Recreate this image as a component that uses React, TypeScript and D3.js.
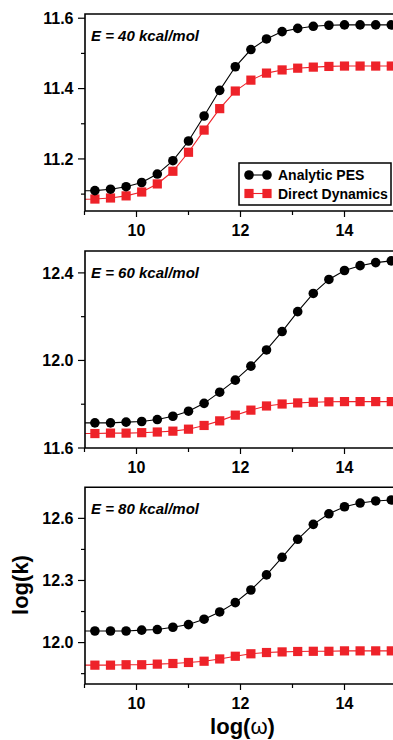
import React, { useRef, useEffect } from "react";
import * as d3 from "d3";

// log(omega) sample points (first one sits just left of the visible axis)
const logOmega = [8.9, 9.2, 9.5, 9.8, 10.1, 10.4, 10.7, 11.0, 11.3, 11.6, 11.9, 12.2, 12.5, 12.8, 13.1, 13.4, 13.7, 14.0, 14.3, 14.6, 14.9];

const energyLabels = ["E = 40 kcal/mol", "E = 60 kcal/mol", "E = 80 kcal/mol"];
const seriesNames = ["Analytic PES", "Direct Dynamics"];

const analytic40 = [11.109, 11.110, 11.114, 11.121, 11.133, 11.157, 11.195, 11.251, 11.322, 11.395, 11.462, 11.511, 11.541, 11.562, 11.571, 11.577, 11.580, 11.581, 11.581, 11.581, 11.581];
const direct40 = [11.085, 11.086, 11.089, 11.095, 11.106, 11.129, 11.165, 11.219, 11.282, 11.343, 11.393, 11.424, 11.444, 11.453, 11.458, 11.461, 11.463, 11.464, 11.464, 11.464, 11.464];
const analytic60 = [11.715, 11.715, 11.715, 11.718, 11.721, 11.730, 11.745, 11.768, 11.804, 11.855, 11.910, 11.974, 12.048, 12.132, 12.223, 12.306, 12.370, 12.411, 12.433, 12.447, 12.455];
const direct60 = [11.666, 11.666, 11.668, 11.668, 11.670, 11.673, 11.677, 11.686, 11.703, 11.724, 11.750, 11.773, 11.792, 11.801, 11.806, 11.809, 11.811, 11.812, 11.812, 11.812, 11.812];
const analytic80 = [12.056, 12.056, 12.056, 12.056, 12.060, 12.063, 12.074, 12.087, 12.113, 12.148, 12.193, 12.254, 12.327, 12.412, 12.499, 12.571, 12.622, 12.656, 12.674, 12.684, 12.689];
const direct80 = [11.891, 11.891, 11.891, 11.893, 11.893, 11.896, 11.899, 11.904, 11.910, 11.921, 11.934, 11.946, 11.952, 11.955, 11.957, 11.958, 11.958, 11.960, 11.960, 11.960, 11.960];

const xDomain: [number, number] = [9, 15];
const xMajorTicks = [10, 12, 14];
const xMinorTicks = [9, 11, 13, 15];

const yDomains: [number, number][] = [[11.052, 11.612], [11.6, 12.5], [11.8, 12.75]];
const yMajorTicks = [[11.2, 11.4, 11.6], [11.6, 12.0, 12.4], [12.0, 12.3, 12.6]];
const yMinorTicks = [[11.1, 11.3, 11.5], [11.8, 12.2], [11.85, 12.15, 12.45]];

const analyticSeries = [analytic40, analytic60, analytic80];
const directSeries = [direct40, direct60, direct80];

const RED = "#ee2229";
const FONT = "'Liberation Sans', Arial, Helvetica, sans-serif";

export default function App() {
  const svgRef = useRef<SVGSVGElement>(null);

  useEffect(() => {
    if (!svgRef.current) return;
    const svg = d3.select(svgRef.current);
    svg.selectAll("*").remove();

    const width = 393;
    const height = 740;
    svg.attr("width", width).attr("height", height);

    const left = 85;
    const right = 396.5;
    const panelTops = [14, 251, 487.3];
    const panelBottoms = [211, 448, 684];

    const xScale = d3.scaleLinear().domain(xDomain).range([84.5, right]);

    panelTops.forEach((top, p) => {
      const bottom = panelBottoms[p];
      const yScale = d3.scaleLinear().domain(yDomains[p]).range([bottom, top]);
      const g = svg.append("g");

      // clip for data
      const clipId = `clip-${p}`;
      svg.append("defs").append("clipPath").attr("id", clipId)
        .append("rect")
        .attr("x", left)
        .attr("y", top - 10)
        .attr("width", width)
        .attr("height", bottom - top + 20);

      const pts = (vals: number[]) => logOmega.map((x, i) => [x, vals[i]] as [number, number]);

      const line = d3.line<[number, number]>()
        .x(d => xScale(d[0]))
        .y(d => yScale(d[1]));

      const dataG = g.append("g").attr("clip-path", `url(#${clipId})`);

      // Direct dynamics (red squares)
      const direct = pts(directSeries[p]);
      dataG.append("path")
        .datum(direct)
        .attr("fill", "none")
        .attr("stroke", RED)
        .attr("stroke-width", 1.1)
        .attr("d", line);
      dataG.selectAll(".sq")
        .data(direct)
        .enter()
        .append("rect")
        .attr("x", d => xScale(d[0]) - 4.6)
        .attr("y", d => yScale(d[1]) - 4.6)
        .attr("width", 9.2)
        .attr("height", 9.2)
        .attr("fill", RED);

      // Analytic PES (black circles)
      const analytic = pts(analyticSeries[p]);
      dataG.append("path")
        .datum(analytic)
        .attr("fill", "none")
        .attr("stroke", "#000")
        .attr("stroke-width", 1.1)
        .attr("d", line);
      dataG.selectAll(".ci")
        .data(analytic)
        .enter()
        .append("circle")
        .attr("cx", d => xScale(d[0]))
        .attr("cy", d => yScale(d[1]))
        .attr("r", 4.8)
        .attr("fill", "#000");

      // frame: left axis, bottom axis, top border
      g.append("path")
        .attr("d", `M${right},${top}H${left}V${bottom}H${right}`)
        .attr("fill", "none")
        .attr("stroke", "#000")
        .attr("stroke-width", 1.6);

      // y ticks
      yMajorTicks[p].forEach(v => {
        const y = yScale(v);
        g.append("line")
          .attr("x1", left - 7).attr("x2", left)
          .attr("y1", y).attr("y2", y)
          .attr("stroke", "#000").attr("stroke-width", 1.2);
        g.append("text")
          .attr("x", 73.5)
          .attr("y", y + 5.8)
          .attr("text-anchor", "end")
          .style("font-family", FONT)
          .style("font-weight", "bold")
          .style("font-size", "16px")
          .text(v.toFixed(1));
      });
      yMinorTicks[p].forEach(v => {
        const y = yScale(v);
        g.append("line")
          .attr("x1", left - 4).attr("x2", left)
          .attr("y1", y).attr("y2", y)
          .attr("stroke", "#000").attr("stroke-width", 1.2);
      });

      // x ticks
      xMajorTicks.forEach(v => {
        const x = xScale(v);
        g.append("line")
          .attr("x1", x).attr("x2", x)
          .attr("y1", bottom).attr("y2", bottom + 6)
          .attr("stroke", "#000").attr("stroke-width", 1.2);
        g.append("text")
          .attr("x", x)
          .attr("y", bottom + 25)
          .attr("text-anchor", "middle")
          .style("font-family", FONT)
          .style("font-weight", "bold")
          .style("font-size", "16px")
          .text(String(v));
      });
      xMinorTicks.forEach(v => {
        const x = xScale(v);
        g.append("line")
          .attr("x1", x).attr("x2", x)
          .attr("y1", bottom).attr("y2", bottom + 4)
          .attr("stroke", "#000").attr("stroke-width", 1.2);
      });

      // energy label
      g.append("text")
        .attr("x", 91)
        .attr("y", top + 26.5)
        .style("font-family", FONT)
        .style("font-weight", "bold")
        .style("font-style", "italic")
        .style("font-size", "15px")
        .text(energyLabels[p]);

      // legend in the first panel
      if (p === 0) {
        const lg = g.append("g");
        lg.append("rect")
          .attr("x", 239).attr("y", 163)
          .attr("width", 152).attr("height", 42)
          .attr("fill", "#fff")
          .attr("stroke", "#000")
          .attr("stroke-width", 1.5);
        const rows = [175, 193.5];
        rows.forEach((ry, i) => {
          const color = i === 0 ? "#000" : RED;
          lg.append("line")
            .attr("x1", 249).attr("x2", 267)
            .attr("y1", ry).attr("y2", ry)
            .attr("stroke", color).attr("stroke-width", 1.1);
          [249, 267].forEach(mx => {
            if (i === 0) {
              lg.append("circle").attr("cx", mx).attr("cy", ry).attr("r", 4.8).attr("fill", color);
            } else {
              lg.append("rect").attr("x", mx - 4.6).attr("y", ry - 4.6)
                .attr("width", 9.2).attr("height", 9.2).attr("fill", color);
            }
          });
          lg.append("text")
            .attr("x", 278)
            .attr("y", ry + 5)
            .style("font-family", FONT)
            .style("font-weight", "bold")
            .style("font-size", "14px")
            .text(seriesNames[i]);
        });
      }
    });

    // axis titles
    svg.append("text")
      .attr("transform", "translate(28,585) rotate(-90)")
      .attr("text-anchor", "middle")
      .style("font-family", FONT)
      .style("font-weight", "bold")
      .style("font-size", "22px")
      .text("log(k)");

    const xt = svg.append("text")
      .attr("x", 242.5)
      .attr("y", 733.5)
      .attr("text-anchor", "middle")
      .style("font-family", FONT)
      .style("font-weight", "bold")
      .style("font-size", "22px");
    xt.append("tspan").text("log(");
    xt.append("tspan").style("font-weight", "normal").text("ω");
    xt.append("tspan").text(")");
  }, []);

  return (
    <div style={{ position: "absolute", left: 0, top: 0, background: "#fff" }}>
      <svg ref={svgRef} style={{ display: "block" }} />
    </div>
  );
}
